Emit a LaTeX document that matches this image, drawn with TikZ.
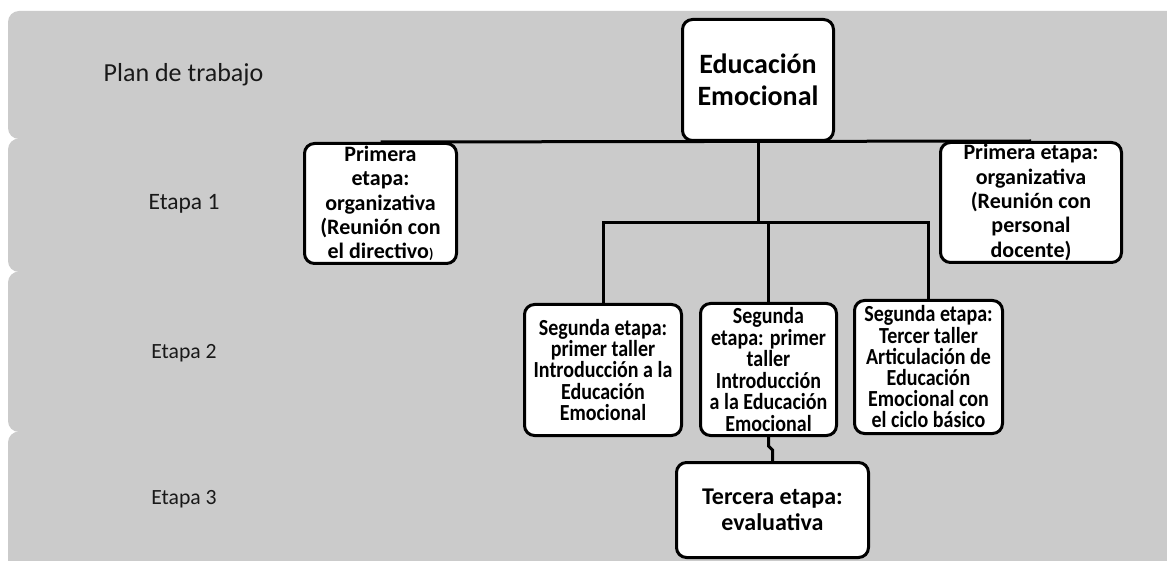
\documentclass[tikz,border=0pt]{standalone}
\usepackage{fontspec}
\setmainfont{Carlito}
\newfontfamily\midfont[FakeStretch=0.87]{Carlito}
\definecolor{bandgray}{RGB}{203,203,203}
\begin{document}
\lineskiplimit=-20pt
\begin{tikzpicture}[x=1pt,y=-1pt,
  box/.style={draw=black, line width=3pt, fill=white, rounded corners=10pt, align=center, inner sep=0pt},
  conn/.style={draw=black, line width=3pt},
  lab/.style={text=black!90, inner sep=0pt},
  band/.style={fill=bandgray, rounded corners=11pt}]
\useasboundingbox (0,0) rectangle (1167,561);
\clip (0,0) rectangle (1167,561);
\fill[white] (0,0) rectangle (1167,561);
% bands
\fill[band] (8,11) rectangle (1200,139);
\fill[band] (8,138.5) rectangle (1200,272);
\fill[band] (8,271.5) rectangle (1200,432);
\fill[band] (8,431.5) rectangle (1200,620);
% row labels
\node[lab, font=\fontsize{26}{30}\selectfont] (t0) at (183.5,75) {Plan de trabajo};
\node[lab, font=\fontsize{23.5}{28}\selectfont] (t1) at (184,204) {Etapa 1};
\node[lab, font=\fontsize{21.7}{26}\selectfont] (t2) at (184,353) {Etapa 2};
\node[lab, font=\fontsize{21.7}{26}\selectfont] (t3) at (184,499) {Etapa 3};
% boxes
\node[box, minimum width=151pt, minimum height=121pt, font=\fontsize{28}{32}\selectfont\bfseries] (E) at (758,80) {\raisebox{0pt}{Educación}\\Emocional};
\node[box, minimum width=152pt, minimum height=120pt, font=\fontsize{22}{24.3}\selectfont\bfseries] (L) at (380.5,203.5) {Primera\\etapa:\\organizativa\\(Reunión con\\el directivo{\fontsize{14}{16}\selectfont)}};
\node[box, minimum width=181pt, minimum height=120pt, font=\fontsize{22}{24.3}\selectfont\bfseries] (R) at (1031,202.5) {Primera etapa:\\organizativa\\(Reunión con\\personal\\docente)};
\node[box, minimum width=157pt, minimum height=131pt, font=\midfont\fontsize{23}{21.2}\selectfont\bfseries] (M1) at (603,370) {Segunda etapa:\\primer taller\\Introducción a la\\Educación\\Emocional};
\node[box, minimum width=136pt, minimum height=132pt, font=\midfont\fontsize{23}{21.5}\selectfont\bfseries] (M2) at (768.5,369.5) {Segunda\\etapa: primer\\taller\\Introducción\\a la Educación\\Emocional};
\node[box, minimum width=148pt, minimum height=133pt, font=\midfont\fontsize{23}{21.2}\selectfont\bfseries] (M3) at (928.5,367) {Segunda etapa:\\Tercer taller\\Articulación de\\Educación\\Emocional con\\el ciclo básico};
\node[box, minimum width=192pt, minimum height=95pt, font=\fontsize{24}{26}\selectfont\bfseries] (B) at (772.5,510) {Tercera etapa:\\evaluativa};
% connectors
\coordinate (ja) at (758,223);
\draw[conn] (L.north) -- (R.north);
\draw[conn] (E.south) -- (ja);
\draw[conn] (M1.north) -- (M1.north |- ja) -- (M3.north |- ja) -- (M3.north);
\draw[conn] (M2.north) -- (M2.north |- ja);
\coordinate (k1) at (768.5,446);
\coordinate (k2) at (772.5,450);
\draw[conn] (M2.south) -- (k1) -- (k2) -- (B.north);
\end{tikzpicture}
\end{document}
